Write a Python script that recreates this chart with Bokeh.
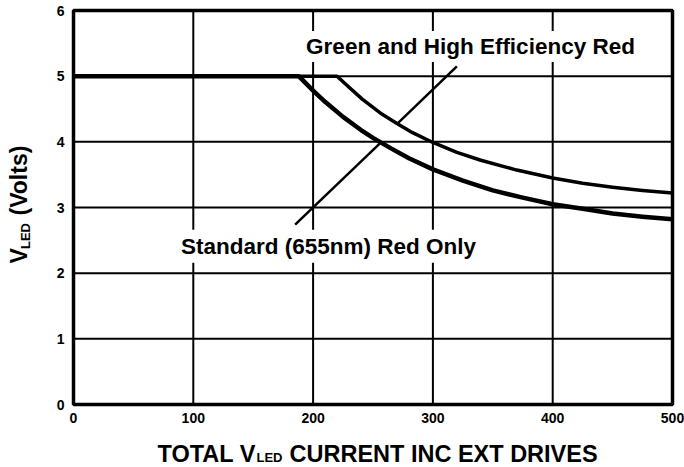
from bokeh.plotting import figure
from bokeh.models import Range1d, Label
from bokeh.core.properties import value
from bokeh.embed import file_html
from bokeh.resources import INLINE
import math

# ---- data ----
x_ticks = [0, 100, 200, 300, 400, 500]
x_tick_labels = ["0", "100", "200", "300", "400", "500"]
y_ticks = [0, 1, 2, 3, 4, 5, 6]
y_tick_labels = ["0", "1", "2", "3", "4", "5", "6"]

red_x = [0, 188, 200, 210, 225, 240, 250, 265, 280, 300, 325, 350, 375, 400, 425, 450, 475, 500]
red_y = [5.0, 5.0, 4.78, 4.61, 4.38, 4.18, 4.06, 3.90, 3.75, 3.58, 3.41, 3.26, 3.15, 3.05,
         2.98, 2.91, 2.86, 2.82]

green_x = [0, 220, 230, 241, 256, 270, 283, 300, 320, 340, 370, 400, 425, 450, 475, 500]
green_y = [5.0, 5.0, 4.83, 4.65, 4.44, 4.28, 4.14, 3.99, 3.84, 3.72, 3.57, 3.45, 3.37, 3.31,
           3.26, 3.22]

green_leader_x = [320, 271]
green_leader_y = [5.15, 4.29]
red_leader_x = [185, 256]
red_leader_y = [2.74, 3.98]

FONT = "Liberation Sans"

# canvas geometry (pixels): chart box from x=73..672, y=10..404
W, H = 684, 467
L, R, T, B = 73, 672, 10, 404
xmin, xmax = x_ticks[0], x_ticks[-1]
ymin, ymax = y_ticks[0], y_ticks[-1]
sx = (R - L) / (xmax - xmin)
sy = (B - T) / (ymax - ymin)

p = figure(width=W, height=H,
           x_range=Range1d(xmin - L / sx, xmax + (W - R) / sx),
           y_range=Range1d(ymin - (H - B) / sy, ymax + T / sy),
           x_axis_type=None, y_axis_type=None,
           output_backend="svg", toolbar_location=None,
           min_border=0, min_border_left=0, min_border_right=0,
           min_border_top=0, min_border_bottom=0)
p.outline_line_color = None
p.xgrid.visible = False
p.ygrid.visible = False
p.background_fill_color = "white"
p.border_fill_color = "white"

# grid lines
p.segment(x0=x_ticks, y0=[ymin] * len(x_ticks), x1=x_ticks, y1=[ymax] * len(x_ticks),
          line_color="black", line_width=2)
p.segment(x0=[xmin] * len(y_ticks), y0=y_ticks, x1=[xmax] * len(y_ticks), y1=y_ticks,
          line_color="black", line_width=2)
# chart box
p.quad(left=[xmin], right=[xmax], bottom=[ymin], top=[ymax], fill_color=None,
       line_color="black", line_width=3.5)

# tick labels
p.text(x=x_ticks, y=[ymin] * len(x_ticks), text=x_tick_labels, text_font=value(FONT),
       text_font_style="bold", text_font_size="14px", text_align="center",
       text_baseline="middle", y_offset=13, text_color="black")
p.text(x=[xmin] * len(y_ticks), y=y_ticks, text=y_tick_labels, text_font=value(FONT),
       text_font_style="bold", text_font_size="14px", text_align="right",
       text_baseline="middle", x_offset=-9, text_color="black")

# curves
p.line(red_x, red_y, line_color="black", line_width=4.5, line_join="round")
p.line(green_x, green_y, line_color="black", line_width=3.5, line_join="round")
p.line(green_leader_x, green_leader_y, line_color="black", line_width=2.5)
p.line(red_leader_x, red_leader_y, line_color="black", line_width=2.5)


def lab(x, y, text, size, **kw):
    l = Label(x=x, y=y, text=text, text_font=FONT, text_font_style="bold",
              text_font_size=size, text_color="black", **kw)
    p.add_layout(l)
    return l


lab(331.4, 5.45, "Green and High Efficiency Red", "22.5px", text_align="center",
    text_baseline="middle", background_fill_color="white", padding=3)
lab(212.9, 2.41, "Standard (655nm) Red Only", "22.5px", text_align="center",
    text_baseline="middle", background_fill_color="white", padding=4)


def dx(px):
    return xmin + (px - L) / sx


def dy(py):
    return ymin + (B - py) / sy


# x axis title
lab(dx(157), dy(453.5), "TOTAL V", "23.5px", text_align="left", text_baseline="middle")
lab(dx(256), dy(457.3), "LED", "13px", text_align="left", text_baseline="middle")
lab(dx(289), dy(453.5), "CURRENT INC EXT DRIVES", "23.5px", text_align="left",
    text_baseline="middle")

# y axis title (rotated)
lab(dx(18.5), dy(263), "V", "23px", text_align="left", text_baseline="middle", angle=math.pi / 2)
lab(dx(24.5), dy(248.5), "LED", "13px", text_align="left", text_baseline="middle",
    angle=math.pi / 2)
lab(dx(18.5), dy(215), "(Volts)", "23px", text_align="left", text_baseline="middle",
    angle=math.pi / 2)

open("out.html", "w").write(file_html(p, INLINE))
